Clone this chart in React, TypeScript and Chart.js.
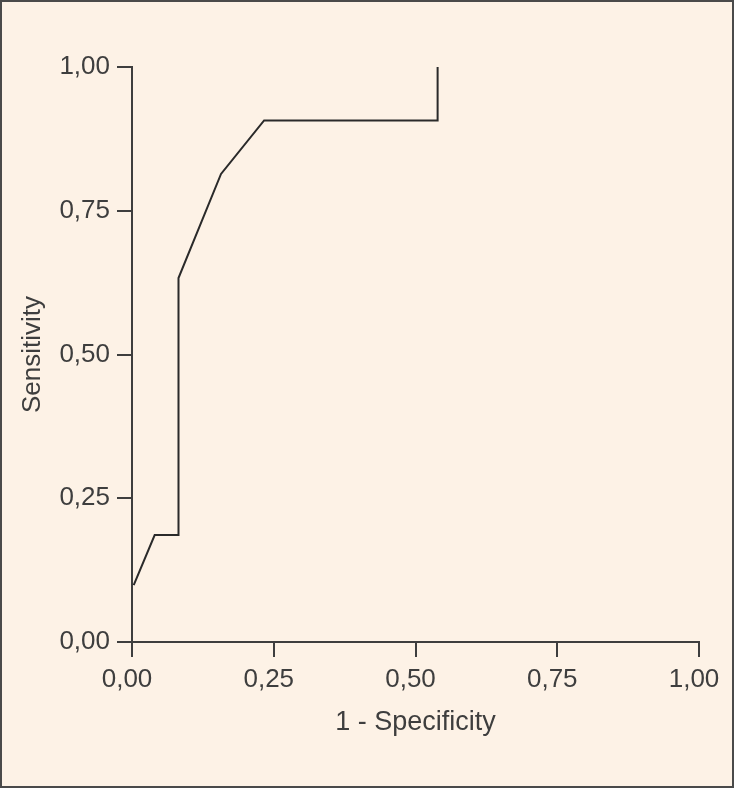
import React, { useEffect, useRef } from "react";
import { Chart, registerables } from "chart.js";

Chart.register(...registerables);

// ROC curve points
const falsePositiveRate = [0.003, 0.04, 0.082, 0.082, 0.157, 0.233, 0.539, 0.539];
const sensitivity = [0.099, 0.186, 0.186, 0.633, 0.814, 0.907, 0.907, 1.0];
const tickValues = [0, 0.25, 0.5, 0.75, 1];
const tickLabels = ["0,00", "0,25", "0,50", "0,75", "1,00"];
const xTitle = "1 - Specificity";
const yTitle = "Sensitivity";

const BG = "#fdf2e6";
const INK = "#3e3e3e";
const FONT = "'Liberation Sans', Arial, Helvetica, sans-serif";

const backgroundPlugin = {
  id: "bgFrame",
  beforeDraw(chart: any) {
    const { ctx, width, height } = chart;
    ctx.save();
    ctx.fillStyle = BG;
    ctx.fillRect(0, 0, width, height);
    ctx.strokeStyle = "#4a4a4a";
    ctx.lineWidth = 2;
    ctx.strokeRect(1, 1, width - 2, height - 2);
    ctx.restore();
  },
};

export default function App() {
  const ref = useRef<HTMLCanvasElement | null>(null);

  useEffect(() => {
    if (!ref.current) return;
    const points = falsePositiveRate.map((x, i) => ({ x, y: sensitivity[i] }));
    const labelFor = (v: number) => {
      const idx = tickValues.findIndex((t) => Math.abs(t - v) < 1e-9);
      return idx >= 0 ? tickLabels[idx] : "";
    };
    const axisCommon = {
      type: "linear" as const,
      min: 0,
      max: 1,
      afterBuildTicks: (scale: any) => {
        scale.ticks = tickValues.map((v) => ({ value: v }));
      },
      grid: {
        drawOnChartArea: false,
        drawTicks: true,
        tickLength: 15,
        color: INK,
        lineWidth: 2,
      },
      border: { display: true, color: INK, width: 2 },
    };
    const chart = new Chart(ref.current, {
      type: "scatter",
      data: {
        datasets: [
          {
            data: points,
            showLine: true,
            borderColor: "#2a2a2a",
            borderWidth: 2,
            pointRadius: 0,
            tension: 0,
            fill: false,
          },
        ],
      },
      options: {
        responsive: false,
        animation: false,
        devicePixelRatio: 1,
        layout: { padding: { left: 0, top: 67, right: 35, bottom: 0 } },
        plugins: {
          legend: { display: false },
          tooltip: { enabled: false },
        },
        scales: {
          x: {
            ...axisCommon,
            position: "bottom",
            afterFit: (scale: any) => {
              scale.height = 146;
            },
            ticks: {
              callback: (v: any) => labelFor(Number(v)),
              font: { family: FONT, size: 26 },
              color: INK,
              padding: 7,
              labelOffset: -5,
              maxRotation: 0,
              autoSkip: false,
            },
            title: {
              display: true,
              text: xTitle,
              font: { family: FONT, size: 27 },
              color: INK,
              padding: { top: 0, bottom: 49 },
            },
          },
          y: {
            ...axisCommon,
            position: "left",
            afterFit: (scale: any) => {
              scale.width = 132;
            },
            ticks: {
              callback: (v: any) => labelFor(Number(v)),
              font: { family: FONT, size: 26 },
              color: INK,
              padding: 7,
              autoSkip: false,
            },
            title: {
              display: true,
              text: yTitle,
              font: { family: FONT, size: 26 },
              color: INK,
              padding: { top: 17, bottom: 0 },
            },
          },
        },
      },
      plugins: [backgroundPlugin],
    } as any);
    return () => chart.destroy();
  }, []);

  return (
    <div style={{ position: "absolute", left: 0, top: 0, width: 734, height: 788 }}>
      <canvas ref={ref} width={734} height={788} style={{ display: "block", width: 734, height: 788 }} />
    </div>
  );
}
